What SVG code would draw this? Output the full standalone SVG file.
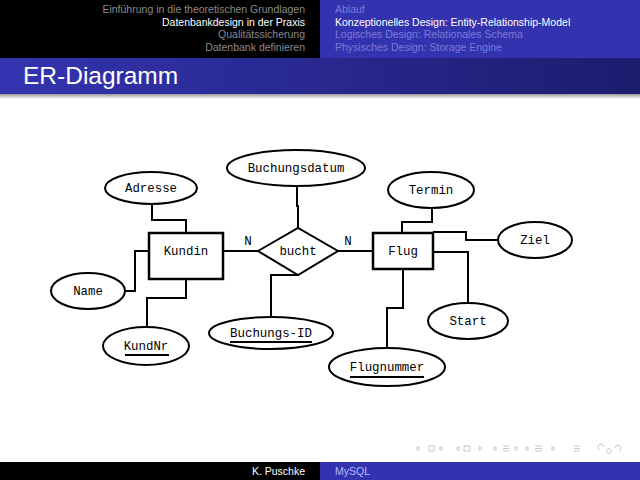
<svg xmlns="http://www.w3.org/2000/svg" width="640" height="480" viewBox="0 0 640 480">
<defs>
<linearGradient id="tg" x1="0" y1="0" x2="1" y2="0">
<stop offset="0" stop-color="#3434b0"/>
<stop offset="1" stop-color="#1c1c6e"/>
</linearGradient>
<linearGradient id="sh" x1="0" y1="0" x2="0" y2="1">
<stop offset="0" stop-color="#999"/>
<stop offset="1" stop-color="#fff"/>
</linearGradient>
<style>
.hd{font-family:"Liberation Sans",Arial,sans-serif;font-size:10.5px}
.in{fill:#8a8a8a}
.act{fill:#ffffff}
.inb{fill:#7a7ad6}
.er{font-family:"Liberation Mono","DejaVu Sans Mono",monospace;font-size:12.4px;fill:#000;text-anchor:middle}
.sh{fill:#fff;stroke:#000;stroke-width:2}
.ent{fill:#fff;stroke:#000;stroke-width:2.5}
.ln{fill:none;stroke:#000;stroke-width:2}
.ul{stroke:#000;stroke-width:2}
.nav{fill:none;stroke:#bbb;stroke-width:0.8}
</style>
</defs>
<rect width="640" height="480" fill="#fff"/>
<!-- header -->
<rect x="0" y="0" width="320" height="58" fill="#000"/>
<rect x="320" y="0" width="320" height="58" fill="#3333b0"/>
<g class="hd" text-anchor="end">
<text x="305" y="13" class="in">Einführung in die theoretischen Grundlagen</text>
<text x="305" y="25.5" class="act">Datenbankdesign in der Praxis</text>
<text x="305" y="38" class="in">Qualitätssicherung</text>
<text x="305" y="50.5" class="in">Datenbank definieren</text>
</g>
<g class="hd">
<text x="335" y="13" class="inb">Ablauf</text>
<text x="335" y="25.5" class="act">Konzeptionelles Design: Entity-Relationship-Model</text>
<text x="335" y="38" class="inb">Logisches Design: Relationales Schema</text>
<text x="335" y="50.5" class="inb">Physisches Design: Storage Engine</text>
</g>
<rect x="0" y="58" width="640" height="36" fill="url(#tg)"/>
<rect x="0" y="94" width="640" height="5" fill="url(#sh)"/>
<text x="23" y="84" font-family="Liberation Sans,Arial,sans-serif" font-size="24.5" fill="#fff">ER-Diagramm</text>
<!-- connectors -->
<g id="connectors">
<polyline class="ln" points="152,204 152,220 186,220 186,233"/>
<polyline class="ln" points="125,291 135,291 135,251 149,251"/>
<polyline class="ln" points="186,279 186,298 147,298 147,327"/>
<line class="ln" x1="223" y1="251" x2="258" y2="251"/>
<polyline class="ln" points="297,187 297,206 298,206 298,228"/>
<polyline class="ln" points="298,275 271,275 271,318"/>
<line class="ln" x1="338" y1="251" x2="373" y2="251"/>
<polyline class="ln" points="432,208 432,222 402,222 402,233"/>
<polyline class="ln" points="433,232 466,232 466,240 499,240"/>
<polyline class="ln" points="433,252 468,252 468,303"/>
<polyline class="ln" points="403,269 403,308 387,308 387,348"/>
<text x="248" y="245" class="er">N</text>
<text x="348" y="245" class="er">N</text>
</g>
<!-- nodes -->
<g id="kundin"><rect class="ent" x="149" y="233" width="74" height="46"/><text x="186" y="255" class="er">Kundin</text></g>
<g id="flug"><rect class="ent" x="373" y="233" width="60" height="36"/><text x="403" y="255" class="er">Flug</text></g>
<g id="bucht"><polygon class="sh" points="258,251 298,228 338,251 298,275"/><text x="298" y="255" class="er">bucht</text></g>
<g id="buchungsdatum"><ellipse class="sh" cx="296" cy="168" rx="69" ry="18"/><text x="296" y="172" class="er">Buchungsdatum</text></g>
<g id="adresse"><ellipse class="sh" cx="151" cy="188" rx="46" ry="16"/><text x="151" y="192" class="er">Adresse</text></g>
<g id="name"><ellipse class="sh" cx="88" cy="291" rx="37" ry="18"/><text x="88" y="295" class="er">Name</text></g>
<g id="kundnr"><ellipse class="sh" cx="146" cy="346" rx="43" ry="19"/><text x="146" y="350" class="er">KundNr</text><line class="ul" x1="125" y1="355" x2="169" y2="355"/></g>
<g id="buchungsid"><ellipse class="sh" cx="271" cy="333" rx="62" ry="16"/><text x="271" y="337" class="er">Buchungs-ID</text><line class="ul" x1="230" y1="342" x2="312" y2="342"/></g>
<g id="termin"><ellipse class="sh" cx="431" cy="190" rx="43" ry="18"/><text x="431" y="194" class="er">Termin</text></g>
<g id="ziel"><ellipse class="sh" cx="535" cy="240" rx="37" ry="18"/><text x="535" y="244" class="er">Ziel</text></g>
<g id="start"><ellipse class="sh" cx="468" cy="321" rx="40" ry="18"/><text x="468" y="325" class="er">Start</text></g>
<g id="flugnummer"><ellipse class="sh" cx="387" cy="367" rx="58" ry="19"/><text x="387" y="371" class="er">Flugnummer</text><line class="ul" x1="350" y1="377" x2="424" y2="377"/></g>
<!-- nav symbols -->
<g class="nav">
<rect x="429" y="446" width="5" height="5"/>
<rect x="464" y="446" width="6" height="5"/>
<path d="M416,448.5 l3,-2 v4 z M443,448.5 l-3,-2 v4 z M456,448.5 l3,-2 v4 z M482,448.5 l-3,-2 v4 z M493,448.5 l3,-2 v4 z M518,448.5 l-3,-2 v4 z M525,448.5 l3,-2 v4 z M555,448.5 l-3,-2 v4 z"/>
<path d="M503,446 h6 M503,448.5 h6 M503,451 h6 M535,446 h7 M535,448.5 h7 M535,451 h7 M574,446 h6 M574,448.5 h6 M574,451 h6"/>
<path d="M600,450 a3,3 0 1,1 4,-3 M609,448.5 a2.5,2.5 0 1,0 0.1,0 M615,448 a3,3 0 1,1 4,3"/>
</g>
<!-- footer -->
<rect x="0" y="462" width="320" height="18" fill="#000"/>
<rect x="320" y="462" width="320" height="18" fill="#3333b0"/>
<text x="305" y="475" class="hd act" text-anchor="end">K. Puschke</text>
<text x="335" y="475" class="hd" fill="#b8b8ff">MySQL</text>
</svg>
